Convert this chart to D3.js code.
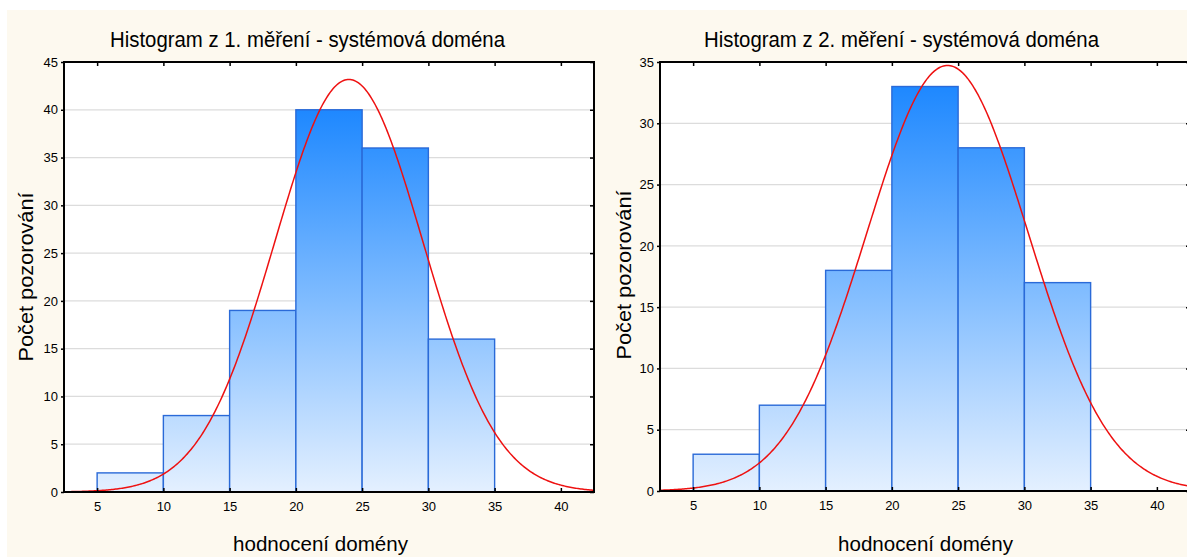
<!DOCTYPE html>
<html><head><meta charset="utf-8">
<script src="https://cdn.jsdelivr.net/npm/d3@7"></script>
<style>
html,body{margin:0;padding:0;background:#fff;}
svg{display:block;}
text{font-family:"Liberation Sans",Arial,sans-serif;fill:#000;}
</style></head>
<body>
<script>
// ---- data ----
const binStarts = [5, 10, 15, 20, 25, 30];
const binWidth = 5;
const counts1 = [2, 8, 19, 40, 36, 16];
const counts2 = [3, 7, 18, 33, 28, 17];
const titles = ["Histogram z 1. měření - systémová doména", "Histogram z 2. měření - systémová doména"];
const xTicks = [5, 10, 15, 20, 25, 30, 35, 40];
const yTicks1 = [0, 5, 10, 15, 20, 25, 30, 35, 40, 45];
const yTicks2 = [0, 5, 10, 15, 20, 25, 30, 35];
const fitMean = [24.0, 24.2];
const fitSd = [5.59, 6.09];
const xLabel = "hodnocení domény";
const yLabel = "Počet pozorování";

const W = 1187, H = 557;
const svg = d3.select("body").append("svg").attr("width", W).attr("height", H);
svg.append("rect").attr("x", 7).attr("y", 10).attr("width", W - 7).attr("height", H - 10).attr("fill", "#fdf9ef");

const defs = svg.append("defs");

const panels = [
  {counts: counts1, yTicks: yTicks1, yMax: 45, left: 64, right: 594, top: 62, bottom: 492, title: titles[0], titleX: 307.5, ylabX: 33, ylabY: 277, xlabX: 320.5, mean: fitMean[0], sd: fitSd[0]},
  {counts: counts2, yTicks: yTicks2, yMax: 35, left: 660, right: 1190, top: 62, bottom: 491, title: titles[1], titleX: 901.5, ylabX: 631, ylabY: 275, xlabX: 925.5, mean: fitMean[1], sd: fitSd[1]}
];

panels.forEach((p, i) => {
  const x = d3.scaleLinear().domain([2.5, 42.5]).range([p.left, p.right]);
  const y = d3.scaleLinear().domain([0, p.yMax]).range([p.bottom, p.top]);
  const g = svg.append("g");
  const clipId = "clip" + i;
  defs.append("clipPath").attr("id", clipId).append("rect")
    .attr("x", p.left).attr("y", p.top).attr("width", p.right - p.left).attr("height", p.bottom - p.top);

  const gradId = "grad" + i;
  const maxC = d3.max(p.counts);
  const gr = defs.append("linearGradient").attr("id", gradId).attr("gradientUnits", "userSpaceOnUse")
    .attr("x1", 0).attr("x2", 0).attr("y1", y(maxC)).attr("y2", y(0));
  gr.append("stop").attr("offset", "0").attr("stop-color", "#1e88ff");
  gr.append("stop").attr("offset", "0.5").attr("stop-color", "#80bcff");
  gr.append("stop").attr("offset", "1").attr("stop-color", "#e4f0ff");

  // plot background
  g.append("rect").attr("x", p.left).attr("y", p.top).attr("width", p.right - p.left).attr("height", p.bottom - p.top).attr("fill", "#fff");

  // gridlines
  g.append("g").selectAll("line").data(p.yTicks.filter(t => t > 0 && t < p.yMax)).join("line")
    .attr("x1", p.left).attr("x2", p.right).attr("y1", d => y(d)).attr("y2", d => y(d))
    .attr("stroke", "#dcdcdc").attr("stroke-width", 1.2);

  // bars
  g.append("g").attr("clip-path", `url(#${clipId})`).selectAll("rect").data(binStarts).join("rect")
    .attr("x", (d) => x(d)).attr("width", d => x(d + binWidth) - x(d))
    .attr("y", (d, j) => y(p.counts[j])).attr("height", (d, j) => y(0) - y(p.counts[j]))
    .attr("fill", `url(#${gradId})`).attr("stroke", "#2a6ad8").attr("stroke-width", 1.4);

  // normal fit curve
  const n = d3.sum(p.counts);
  const pts = d3.range(2.5, 42.51, 0.1).map(v => [v, n * binWidth / (p.sd * Math.sqrt(2 * Math.PI)) * Math.exp(-0.5 * ((v - p.mean) / p.sd) ** 2)]);
  g.append("path").attr("clip-path", `url(#${clipId})`).datum(pts)
    .attr("d", d3.line().x(d => x(d[0])).y(d => y(d[1])))
    .attr("fill", "none").attr("stroke", "#ee1111").attr("stroke-width", 1.5);

  // frame
  g.append("rect").attr("x", p.left).attr("y", p.top).attr("width", p.right - p.left).attr("height", p.bottom - p.top)
    .attr("fill", "none").attr("stroke", "#000").attr("stroke-width", 2);

  // axes
  const xa = g.append("g").attr("transform", `translate(0,${p.bottom})`)
    .call(d3.axisBottom(x).tickValues(xTicks).tickSize(-4).tickPadding(10));
  const xat = g.append("g").attr("transform", `translate(0,${p.top})`)
    .call(d3.axisTop(x).tickValues(xTicks).tickSize(-4).tickFormat(""));
  const ya = g.append("g").attr("transform", `translate(${p.left},0)`)
    .call(d3.axisLeft(y).tickValues(p.yTicks).tickSize(3).tickPadding(3));
  const yar = g.append("g").attr("transform", `translate(${p.right},0)`)
    .call(d3.axisRight(y).tickValues(p.yTicks).tickSize(-4).tickFormat(""));
  [xa, xat, ya, yar].forEach(a => {
    a.select(".domain").remove();
    a.selectAll(".tick line").attr("stroke", "#000").attr("stroke-width", 1.5);
    a.selectAll("text").attr("font-size", 13).attr("fill", "#000")
      .style("font-family", "'Liberation Sans',Arial,sans-serif");
  });

  // titles
  svg.append("text").attr("x", p.titleX).attr("y", 47).attr("text-anchor", "middle").attr("font-size", 21.5)
    .attr("textLength", 395).attr("lengthAdjust", "spacingAndGlyphs").text(p.title);
  svg.append("text").attr("x", p.xlabX).attr("y", 551).attr("text-anchor", "middle").attr("font-size", 20)
    .attr("textLength", 175).attr("lengthAdjust", "spacingAndGlyphs").text(xLabel);
  svg.append("text").attr("transform", `translate(${p.ylabX},${p.ylabY}) rotate(-90)`)
    .attr("text-anchor", "middle").attr("font-size", 20)
    .attr("textLength", 169).attr("lengthAdjust", "spacingAndGlyphs").text(yLabel);
});
</script>
</body></html>
